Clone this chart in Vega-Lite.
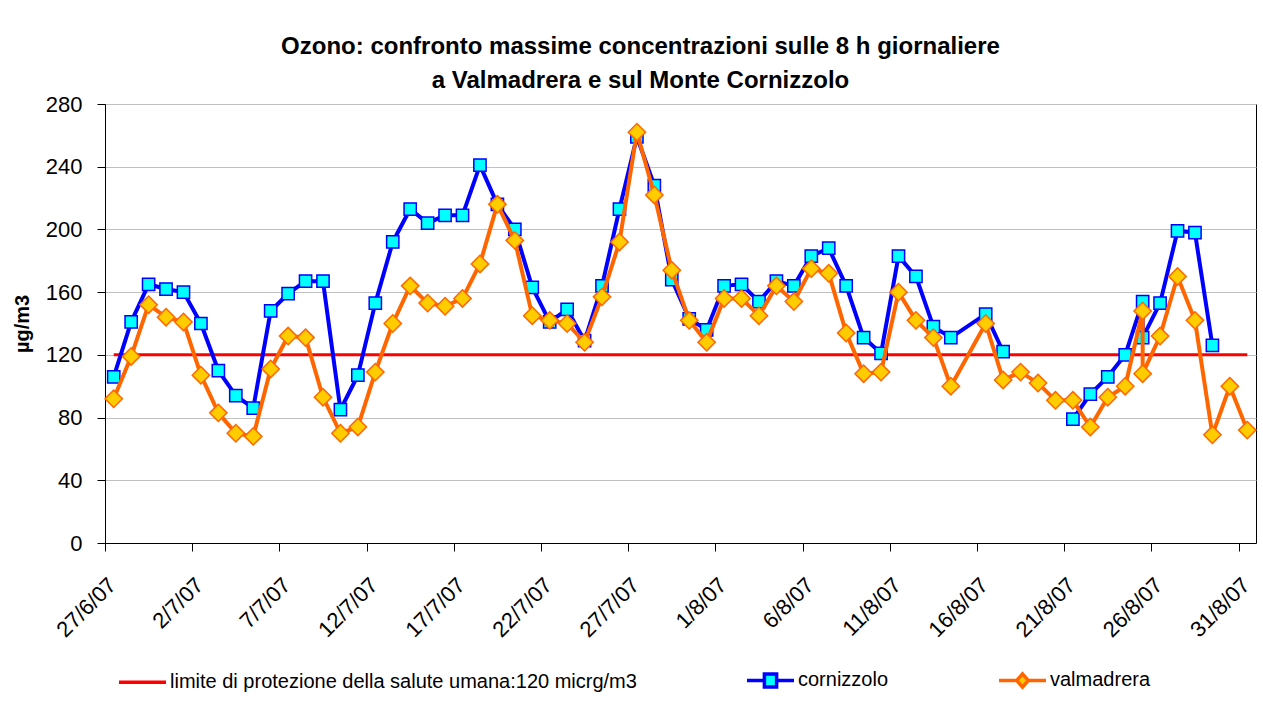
{
  "$schema": "https://vega.github.io/schema/vega-lite/v6.json",
  "width": 1151,
  "height": 439,
  "autosize": {"type": "none"},
  "padding": {"left": 105, "top": 104, "right": 7, "bottom": 171},
  "background": "white",
  "config": {"font": "Liberation Sans", "view": {"stroke": "black", "strokeWidth": 1}},
  "title": {
    "text": ["Ozono: confronto massime concentrazioni sulle 8 h giornaliere", "a Valmadrera e sul Monte Cornizzolo"],
    "fontSize": 24, "fontWeight": "bold", "font": "Liberation Sans", "color": "black",
    "anchor": "middle", "dx": -40, "offset": 0, "lineHeight": 34
  },
  "data": {"values": [
    {"data": "2007-06-27T12:00:00", "limite di protezione della salute umana:120 micrg/m3": 120, "cornizzolo": 106, "valmadrera": 92},
    {"data": "2007-06-28T12:00:00", "limite di protezione della salute umana:120 micrg/m3": 120, "cornizzolo": 141, "valmadrera": 119},
    {"data": "2007-06-29T12:00:00", "limite di protezione della salute umana:120 micrg/m3": 120, "cornizzolo": 165, "valmadrera": 152},
    {"data": "2007-06-30T12:00:00", "limite di protezione della salute umana:120 micrg/m3": 120, "cornizzolo": 162, "valmadrera": 144},
    {"data": "2007-07-01T12:00:00", "limite di protezione della salute umana:120 micrg/m3": 120, "cornizzolo": 160, "valmadrera": 141},
    {"data": "2007-07-02T12:00:00", "limite di protezione della salute umana:120 micrg/m3": 120, "cornizzolo": 140, "valmadrera": 107},
    {"data": "2007-07-03T12:00:00", "limite di protezione della salute umana:120 micrg/m3": 120, "cornizzolo": 110, "valmadrera": 83},
    {"data": "2007-07-04T12:00:00", "limite di protezione della salute umana:120 micrg/m3": 120, "cornizzolo": 94, "valmadrera": 70},
    {"data": "2007-07-05T12:00:00", "limite di protezione della salute umana:120 micrg/m3": 120, "cornizzolo": 86, "valmadrera": 68},
    {"data": "2007-07-06T12:00:00", "limite di protezione della salute umana:120 micrg/m3": 120, "cornizzolo": 148, "valmadrera": 111},
    {"data": "2007-07-07T12:00:00", "limite di protezione della salute umana:120 micrg/m3": 120, "cornizzolo": 159, "valmadrera": 132},
    {"data": "2007-07-08T12:00:00", "limite di protezione della salute umana:120 micrg/m3": 120, "cornizzolo": 167, "valmadrera": 131},
    {"data": "2007-07-09T12:00:00", "limite di protezione della salute umana:120 micrg/m3": 120, "cornizzolo": 167, "valmadrera": 93},
    {"data": "2007-07-10T12:00:00", "limite di protezione della salute umana:120 micrg/m3": 120, "cornizzolo": 85, "valmadrera": 70},
    {"data": "2007-07-11T12:00:00", "limite di protezione della salute umana:120 micrg/m3": 120, "cornizzolo": 107, "valmadrera": 74},
    {"data": "2007-07-12T12:00:00", "limite di protezione della salute umana:120 micrg/m3": 120, "cornizzolo": 153, "valmadrera": 109},
    {"data": "2007-07-13T12:00:00", "limite di protezione della salute umana:120 micrg/m3": 120, "cornizzolo": 192, "valmadrera": 140},
    {"data": "2007-07-14T12:00:00", "limite di protezione della salute umana:120 micrg/m3": 120, "cornizzolo": 213, "valmadrera": 164},
    {"data": "2007-07-15T12:00:00", "limite di protezione della salute umana:120 micrg/m3": 120, "cornizzolo": 204, "valmadrera": 153},
    {"data": "2007-07-16T12:00:00", "limite di protezione della salute umana:120 micrg/m3": 120, "cornizzolo": 209, "valmadrera": 151},
    {"data": "2007-07-17T12:00:00", "limite di protezione della salute umana:120 micrg/m3": 120, "cornizzolo": 209, "valmadrera": 156},
    {"data": "2007-07-18T12:00:00", "limite di protezione della salute umana:120 micrg/m3": 120, "cornizzolo": 241, "valmadrera": 178},
    {"data": "2007-07-19T12:00:00", "limite di protezione della salute umana:120 micrg/m3": 120, "cornizzolo": 216, "valmadrera": 216},
    {"data": "2007-07-20T12:00:00", "limite di protezione della salute umana:120 micrg/m3": 120, "cornizzolo": 200, "valmadrera": 193},
    {"data": "2007-07-21T12:00:00", "limite di protezione della salute umana:120 micrg/m3": 120, "cornizzolo": 163, "valmadrera": 145},
    {"data": "2007-07-22T12:00:00", "limite di protezione della salute umana:120 micrg/m3": 120, "cornizzolo": 141, "valmadrera": 142},
    {"data": "2007-07-23T12:00:00", "limite di protezione della salute umana:120 micrg/m3": 120, "cornizzolo": 149, "valmadrera": 140},
    {"data": "2007-07-24T12:00:00", "limite di protezione della salute umana:120 micrg/m3": 120, "cornizzolo": 129, "valmadrera": 128},
    {"data": "2007-07-25T12:00:00", "limite di protezione della salute umana:120 micrg/m3": 120, "cornizzolo": 164, "valmadrera": 157},
    {"data": "2007-07-26T12:00:00", "limite di protezione della salute umana:120 micrg/m3": 120, "cornizzolo": 213, "valmadrera": 192},
    {"data": "2007-07-27T12:00:00", "limite di protezione della salute umana:120 micrg/m3": 120, "cornizzolo": 259, "valmadrera": 262},
    {"data": "2007-07-28T12:00:00", "limite di protezione della salute umana:120 micrg/m3": 120, "cornizzolo": 228, "valmadrera": 222},
    {"data": "2007-07-29T12:00:00", "limite di protezione della salute umana:120 micrg/m3": 120, "cornizzolo": 168, "valmadrera": 174},
    {"data": "2007-07-30T12:00:00", "limite di protezione della salute umana:120 micrg/m3": 120, "cornizzolo": 143, "valmadrera": 142},
    {"data": "2007-07-31T12:00:00", "limite di protezione della salute umana:120 micrg/m3": 120, "cornizzolo": 136, "valmadrera": 128},
    {"data": "2007-08-01T12:00:00", "limite di protezione della salute umana:120 micrg/m3": 120, "cornizzolo": 164, "valmadrera": 156},
    {"data": "2007-08-02T12:00:00", "limite di protezione della salute umana:120 micrg/m3": 120, "cornizzolo": 165, "valmadrera": 156},
    {"data": "2007-08-03T12:00:00", "limite di protezione della salute umana:120 micrg/m3": 120, "cornizzolo": 154, "valmadrera": 145},
    {"data": "2007-08-04T12:00:00", "limite di protezione della salute umana:120 micrg/m3": 120, "cornizzolo": 167, "valmadrera": 164},
    {"data": "2007-08-05T12:00:00", "limite di protezione della salute umana:120 micrg/m3": 120, "cornizzolo": 164, "valmadrera": 154},
    {"data": "2007-08-06T12:00:00", "limite di protezione della salute umana:120 micrg/m3": 120, "cornizzolo": 183, "valmadrera": 175},
    {"data": "2007-08-07T12:00:00", "limite di protezione della salute umana:120 micrg/m3": 120, "cornizzolo": 188, "valmadrera": 172},
    {"data": "2007-08-08T12:00:00", "limite di protezione della salute umana:120 micrg/m3": 120, "cornizzolo": 164, "valmadrera": 134},
    {"data": "2007-08-09T12:00:00", "limite di protezione della salute umana:120 micrg/m3": 120, "cornizzolo": 131, "valmadrera": 108},
    {"data": "2007-08-10T12:00:00", "limite di protezione della salute umana:120 micrg/m3": 120, "cornizzolo": 121, "valmadrera": 109},
    {"data": "2007-08-11T12:00:00", "limite di protezione della salute umana:120 micrg/m3": 120, "cornizzolo": 183, "valmadrera": 160},
    {"data": "2007-08-12T12:00:00", "limite di protezione della salute umana:120 micrg/m3": 120, "cornizzolo": 170, "valmadrera": 142},
    {"data": "2007-08-13T12:00:00", "limite di protezione della salute umana:120 micrg/m3": 120, "cornizzolo": 138, "valmadrera": 131},
    {"data": "2007-08-14T12:00:00", "limite di protezione della salute umana:120 micrg/m3": 120, "cornizzolo": 131, "valmadrera": 100},
    {"data": "2007-08-16T12:00:00", "limite di protezione della salute umana:120 micrg/m3": 120, "cornizzolo": 146, "valmadrera": 140},
    {"data": "2007-08-17T12:00:00", "limite di protezione della salute umana:120 micrg/m3": 120, "cornizzolo": 122, "valmadrera": 104},
    {"data": "2007-08-18T12:00:00", "limite di protezione della salute umana:120 micrg/m3": 120, "cornizzolo": null, "valmadrera": 109},
    {"data": "2007-08-19T12:00:00", "limite di protezione della salute umana:120 micrg/m3": 120, "cornizzolo": null, "valmadrera": 102},
    {"data": "2007-08-20T12:00:00", "limite di protezione della salute umana:120 micrg/m3": 120, "cornizzolo": null, "valmadrera": 91},
    {"data": "2007-08-21T12:00:00", "limite di protezione della salute umana:120 micrg/m3": 120, "cornizzolo": 79, "valmadrera": 91},
    {"data": "2007-08-22T12:00:00", "limite di protezione della salute umana:120 micrg/m3": 120, "cornizzolo": 95, "valmadrera": 74},
    {"data": "2007-08-23T12:00:00", "limite di protezione della salute umana:120 micrg/m3": 120, "cornizzolo": 106, "valmadrera": 93},
    {"data": "2007-08-24T12:00:00", "limite di protezione della salute umana:120 micrg/m3": 120, "cornizzolo": 120, "valmadrera": 100},
    {"data": "2007-08-25T12:00:00", "limite di protezione della salute umana:120 micrg/m3": 120, "cornizzolo": 154, "valmadrera": 148},
    {"data": "2007-08-25T12:00:00", "limite di protezione della salute umana:120 micrg/m3": 120, "cornizzolo": 131, "valmadrera": 108},
    {"data": "2007-08-26T12:00:00", "limite di protezione della salute umana:120 micrg/m3": 120, "cornizzolo": 153, "valmadrera": 132},
    {"data": "2007-08-27T12:00:00", "limite di protezione della salute umana:120 micrg/m3": 120, "cornizzolo": 199, "valmadrera": 170},
    {"data": "2007-08-28T12:00:00", "limite di protezione della salute umana:120 micrg/m3": 120, "cornizzolo": 198, "valmadrera": 142},
    {"data": "2007-08-29T12:00:00", "limite di protezione della salute umana:120 micrg/m3": 120, "cornizzolo": 126, "valmadrera": 69},
    {"data": "2007-08-30T12:00:00", "limite di protezione della salute umana:120 micrg/m3": 120, "cornizzolo": null, "valmadrera": 100},
    {"data": "2007-08-31T12:00:00", "limite di protezione della salute umana:120 micrg/m3": 120, "cornizzolo": null, "valmadrera": 72}
  ]},
  "transform": [
    {"fold": ["limite di protezione della salute umana:120 micrg/m3", "cornizzolo", "valmadrera"], "as": ["serie", "valore"]}
  ],
  "encoding": {
    "x": {
      "field": "data", "type": "temporal",
      "scale": {"domain": [{"year": 2007, "month": 6, "date": 27}, {"year": 2007, "month": 9, "date": 1}]},
      "axis": {
        "title": null, "grid": false,
        "values": [
          {"year": 2007, "month": 6, "date": 27}, {"year": 2007, "month": 7, "date": 2}, {"year": 2007, "month": 7, "date": 7},
          {"year": 2007, "month": 7, "date": 12}, {"year": 2007, "month": 7, "date": 17}, {"year": 2007, "month": 7, "date": 22},
          {"year": 2007, "month": 7, "date": 27}, {"year": 2007, "month": 8, "date": 1}, {"year": 2007, "month": 8, "date": 6},
          {"year": 2007, "month": 8, "date": 11}, {"year": 2007, "month": 8, "date": 16}, {"year": 2007, "month": 8, "date": 21},
          {"year": 2007, "month": 8, "date": 26}, {"year": 2007, "month": 8, "date": 31}
        ],
        "format": "%-d/%-m/%y", "labelAngle": -45, "labelFontSize": 22, "labelColor": "black",
        "labelFont": "Liberation Sans", "labelPadding": 23, "labelOverlap": false, "labelFlush": false,
        "tickSize": 8, "tickColor": "black", "domainColor": "black"
      }
    },
    "y": {
      "field": "valore", "type": "quantitative",
      "scale": {"domain": [0, 280], "nice": false, "zero": true},
      "axis": {
        "title": "µg/m3", "titleFontSize": 20, "titleFontWeight": "bold", "titleColor": "black", "titleFont": "Liberation Sans",
        "titlePadding": 13,
        "values": [0, 40, 80, 120, 160, 200, 240, 280],
        "labelFontSize": 22, "labelColor": "black", "labelFont": "Liberation Sans", "labelPadding": 15,
        "tickSize": 8, "tickColor": "black", "domainColor": "black",
        "grid": true, "gridColor": "#c0c0c0"
      }
    },
    "stroke": {
      "field": "serie", "type": "nominal",
      "scale": {"domain": ["limite di protezione della salute umana:120 micrg/m3", "cornizzolo", "valmadrera"], "range": ["#ff0000", "#0000ff", "#ff6600"]},
      "legend": {
        "title": null, "orient": "none", "legendX": 12, "legendY": 550.5, "direction": "horizontal",
        "symbolSize": 2209, "symbolStrokeWidth": 3.5, "labelFontSize": 20, "labelFont": "Liberation Sans",
        "labelColor": "black", "labelOffset": 2, "columnPadding": 103, "padding": 0, "labelLimit": 800,
        "encode": {
          "symbols": {
            "update": {
              "shape": {"signal": "datum.value === 'cornizzolo' ? 'M-1,0H-0.26M0.26,0H1M-0.26,-0.28H0.26V0.28H-0.26Z' : (datum.value === 'valmadrera' ? 'M-1,0H-0.245M0.245,0H1M0,-0.28L0.245,0L0,0.28L-0.245,0Z' : 'M-1,0H1')"},
              "fill": {"signal": "datum.value === 'cornizzolo' ? '#00ffff' : (datum.value === 'valmadrera' ? '#ffcc00' : 'transparent')"},
              "opacity": {"value": 1}
            }
          }
        }
      }
    },
    "order": {"value": null}
  },
  "layer": [
    {
      "transform": [{"filter": "datum.serie === 'limite di protezione della salute umana:120 micrg/m3'"}],
      "mark": {"type": "line", "strokeWidth": 3}
    },
    {
      "transform": [{"filter": "datum.serie === 'cornizzolo'"}],
      "mark": {"type": "line", "strokeWidth": 4, "strokeJoin": "round", "invalid": "break-paths-show-domains"}
    },
    {
      "transform": [{"filter": "datum.serie === 'cornizzolo'"}],
      "mark": {"type": "point", "shape": "square", "size": 150, "filled": true, "fill": "#00ffff", "strokeWidth": 1.5, "opacity": 1}
    },
    {
      "transform": [{"filter": "datum.serie === 'valmadrera'"}],
      "mark": {"type": "line", "strokeWidth": 4, "strokeJoin": "round", "invalid": "break-paths-show-domains"}
    },
    {
      "transform": [{"filter": "datum.serie === 'valmadrera'"}],
      "mark": {"type": "point", "shape": "diamond", "size": 300, "filled": true, "fill": "#ffcc00", "strokeWidth": 1.5, "opacity": 1}
    }
  ]
}
